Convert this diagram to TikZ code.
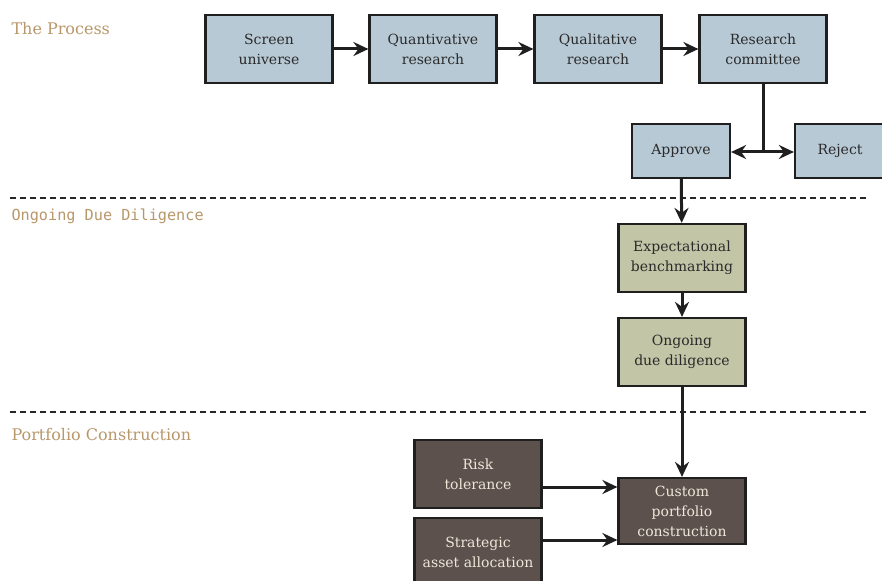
\documentclass[tikz,border=0pt]{standalone}
\usepackage{fontspec}
\setmainfont{DejaVu Serif}
\newfontfamily\labelmono{DejaVu Sans Mono}
\usetikzlibrary{arrows.meta}
\definecolor{stepblue}{HTML}{B8C9D6}
\definecolor{stepgreen}{HTML}{C2C5A6}
\definecolor{stepbrown}{HTML}{5C514C}
\definecolor{steptext}{HTML}{2A2A2A}
\definecolor{lighttext}{HTML}{EEE7DA}
\definecolor{sectan}{HTML}{B8976A}
\tikzset{
    >={Stealth[length=15pt,width=14pt,inset=5pt]},
    flow/.style={
        box/.append style={align=center,draw=black!88,line width=2.2pt,rectangle,minimum width=127pt,minimum height=68pt,font=\fontsize{14}{20}\selectfont,text=steptext,inner sep=2pt},
        process/.append style={box,fill=stepblue},
        decision/.append style={box,fill=stepblue,minimum width=98pt,minimum height=54pt},
        diligence/.append style={box,fill=stepgreen},
        portfolio/.append style={box,fill=stepbrown,text=lighttext},
        section/.append style={anchor=west,text=sectan,font=\fontsize{16}{18}\selectfont},
        monosection/.append style={anchor=west,text=sectan,font=\labelmono\fontsize{15.2}{17}\selectfont},
        divider/.append style={dashed,dash pattern=on 6pt off 4pt,line width=1.3pt,black!85},
        every edge/.append style={draw,line width=3pt,black!88}
    }
}

\begin{document}
\begin{tikzpicture}[flow,x=1pt,y=-1pt]
    \useasboundingbox (0,0) rectangle (882,580);

    % the process
    \node[section] (lproc) at (8,29) {The Process};
    \node[process] (scr) at (269,49) {Screen\\universe};
    \node[process] (quan) at (433,49) {Quantivative\\research};
    \node[process] (qual) at (598,49) {Qualitative\\research};
    \node[process] (comm) at (763,49) {Research\\committee};
    \node[decision] (app) at (681,151) {Approve};
    \node[decision,minimum width=90pt] (rej) at (840,151) {Reject};
    \coordinate (split) at (763,152);

    \path (scr) edge[->] (quan)
          (quan) edge[->] (qual)
          (qual) edge[->] (comm)
          (comm) edge[line cap=butt] ([yshift=1.5pt]split)
          (split) edge[->] (app.east |- split)
          (split) edge[->] (rej.west |- split);

    \coordinate (d1l) at (10,198);
    \coordinate (d1r) at (868,198);
    \draw[divider] (d1l) -- (d1r);

    % ongoing due diligence
    \node[monosection] (ldue) at (8,216) {Ongoing Due Diligence};
    \node[diligence] (bench) at (682,258) {Expectational\\benchmarking};
    \node[diligence] (ongo) at (682,352) {Ongoing\\due diligence};

    \path (app) edge[->] (bench)
          (bench) edge[->] (ongo);

    \coordinate (d2l) at (10,412);
    \coordinate (d2r) at (868,412);
    \draw[divider] (d2l) -- (d2r);

    % portfolio construction
    \node[section] (lport) at (8,435) {Portfolio Construction};
    \node[portfolio] (risk) at (478,474) {Risk\\tolerance};
    \node[portfolio] (saa) at (478,552) {Strategic\\asset allocation};
    \node[portfolio,minimum height=66pt] (cust) at (682,511) {Custom\\portfolio\\construction};

    \path (ongo) edge[->] (cust)
          (risk.east |- 0,487) edge[->] (cust.west |- 0,487)
          (saa.east |- 0,540) edge[->] (cust.west |- 0,540);
\end{tikzpicture}
\end{document}
